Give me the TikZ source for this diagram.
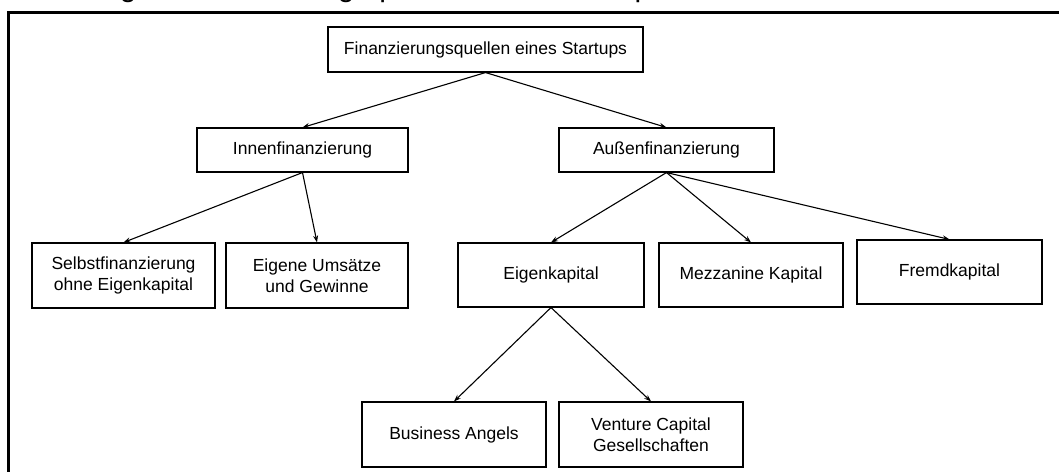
\documentclass[tikz,border=0pt]{standalone}
\usepackage{fontspec}
\setmainfont{Liberation Sans}
\usetikzlibrary{arrows.meta}
\begin{document}
\begin{tikzpicture}[x=1pt,y=-1pt,
  box/.style={draw, line width=1.1pt, align=center, inner sep=0pt, font=\fontsize{17.5}{21}\selectfont},
  conn/.style={line width=1.1pt, -{Stealth[length=7pt,width=5pt]}},
  frame/.style={line width=3pt}]
\useasboundingbox (0,0) rectangle (1059,471);
\clip (0,0) rectangle (1059,471);
\node[anchor=base west, font=\fontsize{30}{36}\selectfont, inner sep=0pt] (cap) at (3,-3) {Abbildung 1: Finanzierungsquellen eines Startups};
\coordinate (f1) at (1070,12);
\coordinate (f0) at (8.5,12);
\coordinate (f2) at (8.5,480);
\draw[frame] (f1) -- (f0) -- (f2);
\node[box, minimum width=315pt, minimum height=45pt] (top) at (485.5,49.5) {Finanzierungsquellen eines Startups};
\node[box, minimum width=211pt, minimum height=44pt] (innen) at (302.5,150) {Innenfinanzierung};
\node[box, minimum width=215pt, minimum height=44pt] (aussen) at (666.5,150) {Außenfinanzierung};
\node[box, minimum width=183pt, minimum height=65pt] (selbst) at (123.5,275.5) {Selbstfinanzierung\\ohne Eigenkapital};
\node[box, minimum width=182pt, minimum height=65pt] (eigene) at (317,275.5) {Eigene Umsätze\\und Gewinne};
\node[box, minimum width=186pt, minimum height=64pt] (ek) at (551,275) {Eigenkapital};
\node[box, minimum width=184pt, minimum height=64pt] (mezz) at (751,275) {Mezzanine Kapital};
\node[box, minimum width=185pt, minimum height=64pt] (fremd) at (949.5,272) {Fremdkapital};
\node[box, minimum width=184pt, minimum height=65pt] (ba) at (454,434.5) {Business Angels};
\node[box, minimum width=184pt, minimum height=65pt] (vc) at (651,434.5) {Venture Capital\\Gesellschaften};
\draw[conn] (top.south) -- (innen.north);
\draw[conn] (top.south) -- (aussen.north);
\draw[conn] (innen.south) -- (selbst.north);
\draw[conn] (innen.south) -- (eigene.north);
\draw[conn] (aussen.south) -- (ek.north);
\draw[conn] (aussen.south) -- (mezz.north);
\draw[conn] (aussen.south) -- (fremd.north);
\draw[conn] (ek.south) -- (ba.north);
\draw[conn] (ek.south) -- (vc.north);
\end{tikzpicture}
\end{document}
